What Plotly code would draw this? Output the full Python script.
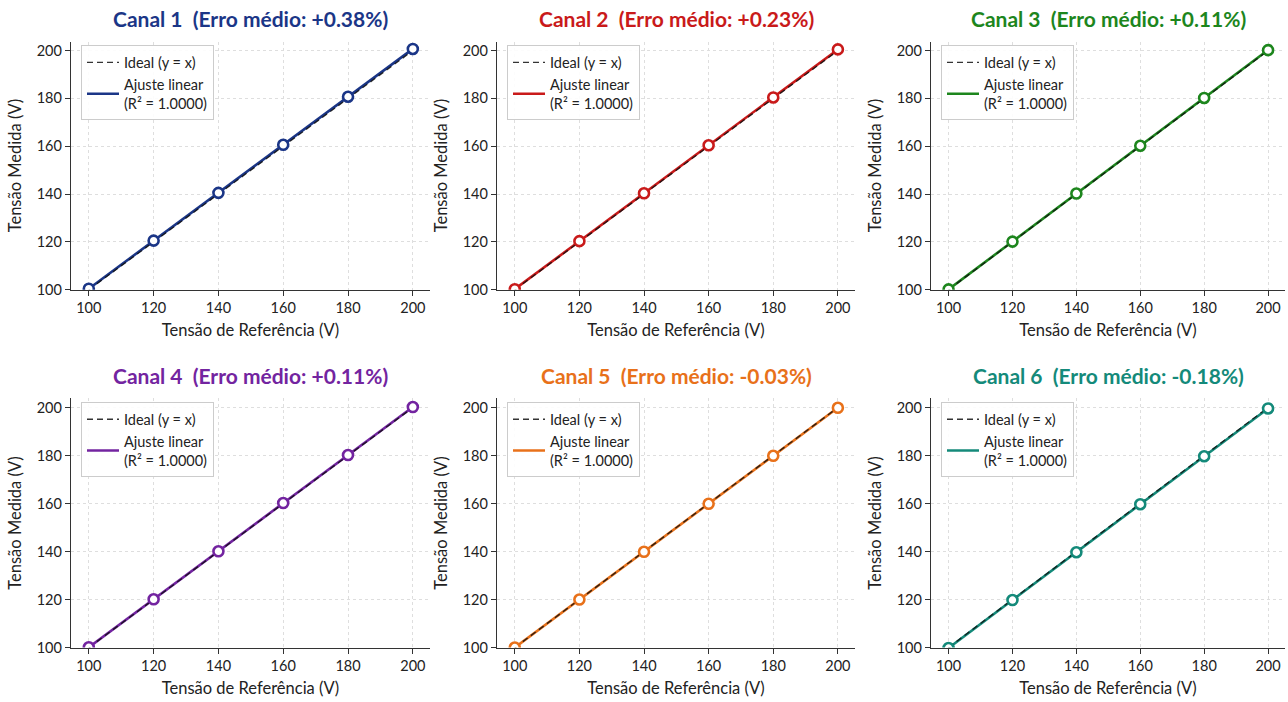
import plotly.graph_objects as go

W, H = 1288, 702

referencia = [100, 120, 140, 160, 180, 200]
canais = ["Canal 1", "Canal 2", "Canal 3", "Canal 4", "Canal 5", "Canal 6"]
erros = ["+0.38%", "+0.23%", "+0.11%", "+0.11%", "-0.03%", "-0.18%"]
cores = ["#1b3687", "#c91a1a", "#1d861d", "#7324a0", "#e8711a", "#148a7a"]

medido_c1 = [100.4, 120.5, 140.5, 160.6, 180.7, 200.7]
medido_c2 = [100.2, 120.3, 140.3, 160.4, 180.4, 200.5]
medido_c3 = [100.1, 120.1, 140.2, 160.2, 180.2, 200.2]
medido_c4 = [100.1, 120.1, 140.1, 160.2, 180.2, 200.2]
medido_c5 = [100.0, 120.0, 139.9, 159.9, 179.9, 199.9]
medido_c6 = [99.8, 119.8, 139.7, 159.7, 179.7, 199.6]
medidos = [medido_c1, medido_c2, medido_c3, medido_c4, medido_c5, medido_c6]
r2_textos = ["1.0000"] * 6

FONT = "Lato"

# panel boxes in pixels: (left, right, top, bottom)
cols_px = [(71, 430), (497, 855), (931, 1285)]
rows_px = [(42, 293), (403, 655)]
title_px = [19, 380]

fig = go.Figure()
layout = {}

for i in range(6):
    r, c = divmod(i, 3)
    n = i + 1
    xa = "x" if n == 1 else f"x{n}"
    ya = "y" if n == 1 else f"y{n}"
    leg = "legend" if n == 1 else f"legend{n}"
    col = cores[i]
    meas = medidos[i]
    nn = len(referencia)
    mx = sum(referencia) / nn
    my = sum(meas) / nn
    sxx = sum((x - mx) ** 2 for x in referencia)
    sxy = sum((x - mx) * (y - my) for x, y in zip(referencia, meas))
    a = sxy / sxx
    b = my - a * mx
    fit_x = [referencia[0], referencia[-1]]
    fit_y = [a * x + b for x in fit_x]

    fig.add_trace(go.Scatter(x=fit_x, y=fit_y, mode="lines",
                             line=dict(color=col, width=2.6),
                             name=f"Ajuste linear<br>(R² = {r2_textos[i]})",
                             xaxis=xa, yaxis=ya, legend=leg, legendrank=2))
    fig.add_trace(go.Scatter(x=fit_x, y=fit_x, mode="lines",
                             line=dict(color="#111", width=1.4, dash="6px,4px"),
                             opacity=0.85,
                             name="Ideal (y = x)", xaxis=xa, yaxis=ya,
                             legend=leg, legendrank=1))
    fig.add_trace(go.Scatter(x=referencia, y=meas, mode="markers",
                             marker=dict(size=10, color="white",
                                         line=dict(color=col, width=2.6)),
                             showlegend=False, xaxis=xa, yaxis=ya))

    lpx, rpx = cols_px[c]
    tpx, bpx = rows_px[r]
    xd = [lpx / W, rpx / W]
    yd = [1 - bpx / H, 1 - tpx / H]
    axcommon = dict(showline=True, linecolor="#333", linewidth=1.3,
                    ticks="outside", ticklen=5, tickcolor="#333",
                    showgrid=True, gridcolor="#dedede", griddash="3px,3px",
                    gridwidth=1, zeroline=False,
                    tickfont=dict(family=FONT, size=14.5, color="#222"),
                    tickvals=referencia, mirror=False)
    layout[("xaxis" if n == 1 else f"xaxis{n}")] = dict(
        domain=xd, range=[94.5, 205.3], anchor=ya, **axcommon,
        title=dict(text="Tensão de Referência (V)", standoff=9,
                   font=dict(family=FONT, size=16.5, color="#222")))
    layout[("yaxis" if n == 1 else f"yaxis{n}")] = dict(
        domain=yd, range=[100, 203.8], anchor=xa, **axcommon,
        title=dict(text="Tensão Medida (V)", standoff=10,
                   font=dict(family=FONT, size=16.5, color="#222")))
    layout[leg] = dict(x=xd[0] + 10 / W, y=yd[1] - 4 / H, xanchor="left",
                       yanchor="top", xref="paper", yref="paper",
                       bgcolor="rgba(255,255,255,0.9)", bordercolor="#cccccc",
                       borderwidth=1, font=dict(family=FONT, size=14.5, color="#222"),
                       tracegroupgap=2, itemwidth=32)
    fig.add_annotation(x=(xd[0] + xd[1]) / 2, y=1 - title_px[r] / H,
                       xref="paper", yref="paper", showarrow=False,
                       xanchor="center", yanchor="middle",
                       text=f"<b>{canais[i]}&nbsp;&nbsp;(Erro médio: {erros[i]})</b>",
                       font=dict(family=FONT, size=21, color=col))

fig.update_layout(width=W, height=H, margin=dict(l=0, r=0, t=0, b=0),
                  paper_bgcolor="white", plot_bgcolor="white",
                  font=dict(family=FONT), **layout)

fig.write_html("out.html", config={"displayModeBar": False},
               post_script="document.body.style.margin='0px';document.body.style.overflow='hidden';")
